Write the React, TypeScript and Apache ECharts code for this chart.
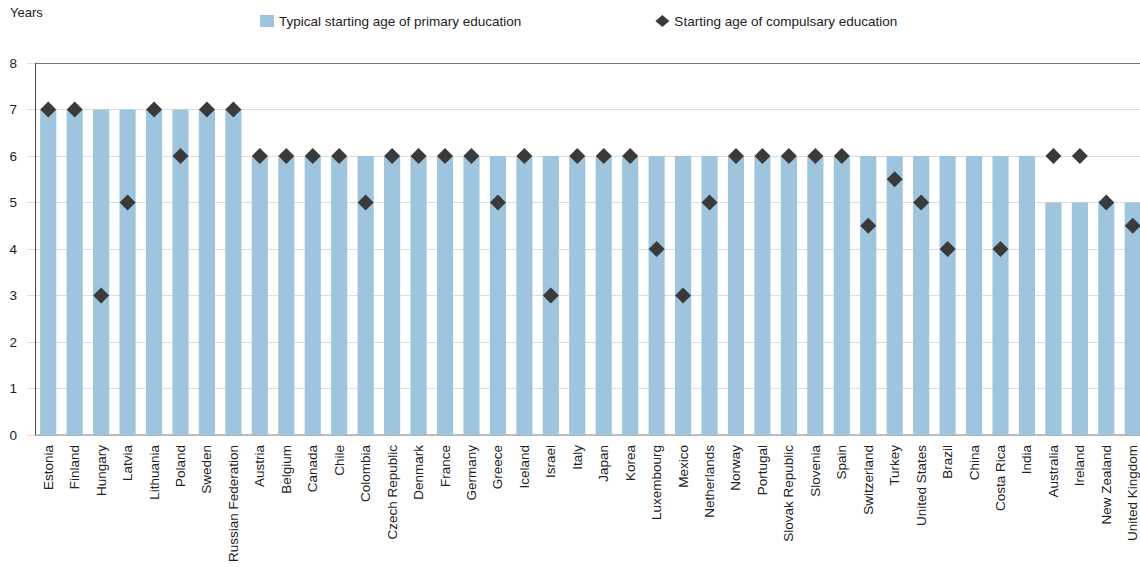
import React, { useEffect, useRef } from "react";
import * as echarts from "echarts";

const categories = [
  "Estonia", "Finland", "Hungary", "Latvia", "Lithuania", "Poland", "Sweden", "Russian Federation",
  "Austria", "Belgium", "Canada", "Chile", "Colombia", "Czech Republic", "Denmark", "France",
  "Germany", "Greece", "Iceland", "Israel", "Italy", "Japan", "Korea", "Luxembourg", "Mexico",
  "Netherlands", "Norway", "Portugal", "Slovak Republic", "Slovenia", "Spain", "Switzerland",
  "Turkey", "United States", "Brazil", "China", "Costa Rica", "India", "Australia", "Ireland",
  "New Zealand", "United Kingdom",
];

const primaryAge = [
  7, 7, 7, 7, 7, 7, 7, 7,
  6, 6, 6, 6, 6, 6, 6, 6,
  6, 6, 6, 6, 6, 6, 6, 6, 6,
  6, 6, 6, 6, 6, 6, 6,
  6, 6, 6, 6, 6, 6, 5, 5,
  5, 5,
];

const compulsoryAge: (number | null)[] = [
  7, 7, 3, 5, 7, 6, 7, 7,
  6, 6, 6, 6, 5, 6, 6, 6,
  6, 5, 6, 3, 6, 6, 6, 4, 3,
  5, 6, 6, 6, 6, 6, 4.5,
  5.5, 5, 4, null, 4, null, 6, 6,
  5, 4.5,
];

const yTicks = { min: 0, max: 8, interval: 1 };

const FONT = "Liberation Sans, Arial, Helvetica, sans-serif";

export default function App() {
  const ref = useRef<HTMLDivElement>(null);
  useEffect(() => {
    if (!ref.current) return;
    document.body.style.margin = "0";
    document.body.style.overflow = "hidden";
    const chart = echarts.init(ref.current, null, { renderer: "svg" });
    chart.setOption({
      animation: false,
      textStyle: { fontFamily: FONT },
      legend: {
        top: 9,
        left: 255,
        itemGap: 134,
        itemWidth: 14,
        itemHeight: 12,
        textStyle: { fontFamily: FONT, fontSize: 13.5, color: "#222" },
        data: [
          { name: "Typical starting age of primary education", icon: "rect" },
          { name: "Starting age of compulsary education", icon: "diamond" },
        ],
      },
      graphic: [
        {
          type: "text",
          left: 10,
          top: 6,
          style: { text: "Years", fontFamily: FONT, fontSize: 13, fill: "#222" },
        },
      ],
      grid: { left: 35, right: 0, top: 63, bottom: 132 },
      xAxis: [
        {
          type: "category",
          data: categories,
          axisLine: { lineStyle: { color: "#aaa", width: 1.5 } },
          axisTick: { show: false },
          axisLabel: {
            rotate: 90,
            interval: 0,
            margin: 10,
            fontFamily: FONT,
            fontSize: 13.5,
            color: "#222",
          },
        },
        {
          type: "category",
          data: categories,
          position: "top",
          axisLine: { lineStyle: { color: "#777", width: 1.2 } },
          axisTick: { show: false },
          axisLabel: { show: false },
        },
      ],
      yAxis: {
        type: "value",
        min: yTicks.min,
        max: yTicks.max,
        interval: yTicks.interval,
        axisLine: { show: true, lineStyle: { color: "#444", width: 1 } },
        axisTick: { show: true, length: 8, lineStyle: { color: "#ddd" } },
        splitLine: { lineStyle: { color: "#ddd" } },
        axisLabel: { margin: 18, fontFamily: FONT, fontSize: 13.5, color: "#222" },
      },
      series: [
        {
          name: "Typical starting age of primary education",
          type: "bar",
          data: primaryAge,
          barWidth: "61%",
          itemStyle: { color: "#9ec4de" },
        },
        {
          name: "Starting age of compulsary education",
          type: "scatter",
          data: compulsoryAge,
          symbol: "diamond",
          symbolSize: 16,
          itemStyle: { color: "#3a3a3a", opacity: 1 },
          z: 5,
        },
      ],
    });
    return () => chart.dispose();
  }, []);
  return (
    <div style={{ position: "absolute", left: 0, top: 0, width: 1140, height: 567, overflow: "hidden" }}>
      <div ref={ref} style={{ width: 1146, height: 567 }} />
    </div>
  );
}
